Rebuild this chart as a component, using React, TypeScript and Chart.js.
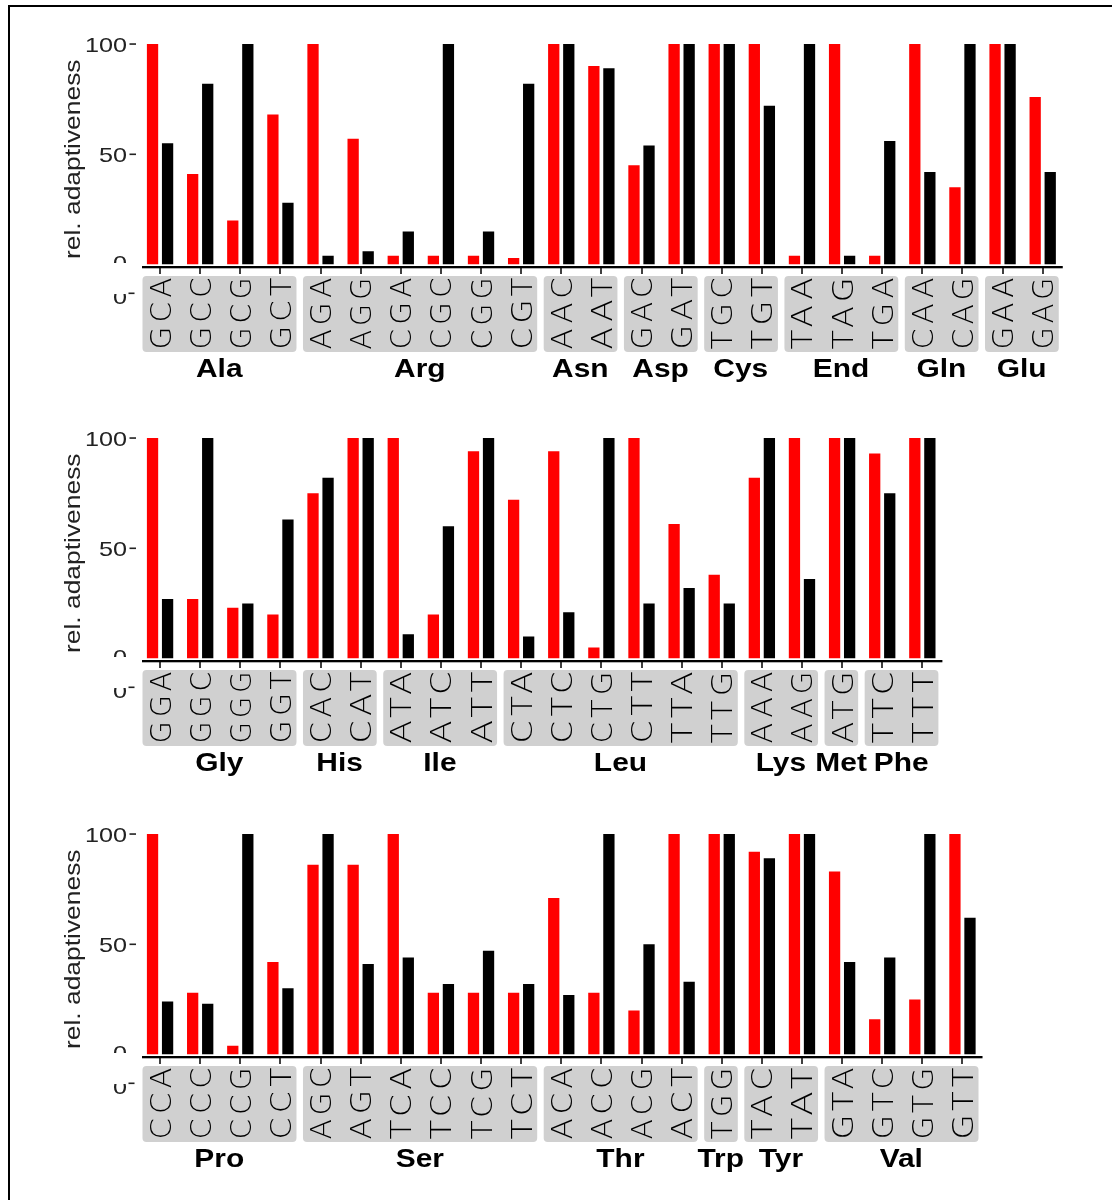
import React, { useEffect, useRef } from 'react';
import { Chart, registerables } from 'chart.js';

Chart.register(...registerables);

// ---------- data ----------
const codons1 = ['GCA','GCC','GCG','GCT','AGA','AGG','CGA','CGC','CGG','CGT','AAC','AAT','GAC','GAT','TGC','TGT','TAA','TAG','TGA','CAA','CAG','GAA','GAG'];
const amino1 = ['Ala','Ala','Ala','Ala','Arg','Arg','Arg','Arg','Arg','Arg','Asn','Asn','Asp','Asp','Cys','Cys','End','End','End','Gln','Gln','Glu','Glu'];
const red1 = [100,41,20,68, 100,57,4,4,4,3, 100,90, 45,100, 100,100, 4,100,4, 100,35, 100,76];
const black1 = [55,82,100,28, 4,6,15,100,15,82, 100,89, 54,100, 100,72, 100,4,56, 42,100, 100,42];

const codons2 = ['GGA','GGC','GGG','GGT','CAC','CAT','ATA','ATC','ATT','CTA','CTC','CTG','CTT','TTA','TTG','AAA','AAG','ATG','TTC','TTT'];
const amino2 = ['Gly','Gly','Gly','Gly','His','His','Ile','Ile','Ile','Leu','Leu','Leu','Leu','Leu','Leu','Lys','Lys','Met','Phe','Phe'];
const red2 = [100,27,23,20, 75,100, 100,20,94, 72,94,5,100,61,38, 82,100, 100, 93,100];
const black2 = [27,100,25,63, 82,100, 11,60,100, 10,21,100,25,32,25, 100,36, 100, 75,100];

const codons3 = ['CCA','CCC','CCG','CCT','AGC','AGT','TCA','TCC','TCG','TCT','ACA','ACC','ACG','ACT','TGG','TAC','TAT','GTA','GTC','GTG','GTT'];
const amino3 = ['Pro','Pro','Pro','Pro','Ser','Ser','Ser','Ser','Ser','Ser','Thr','Thr','Thr','Thr','Trp','Tyr','Tyr','Val','Val','Val','Val'];
const red3 = [100,28,4,42, 86,86,100,28,28,28, 71,28,20,100, 100, 92,100, 83,16,25,100];
const black3 = [24,23,100,30, 100,41,44,32,47,32, 27,100,50,33, 100, 89,100, 42,44,100,62];

const yTickValues = [50, 100];
const yTitle = 'rel. adaptiveness';
const redColor = '#ff0000';
const blackColor = '#000000';

// ---------- layout ----------
const W = 1112;
const H = 395;
const LEFT = 140;
const SLOT = 40.12;
const PLOT_TOP = 44;
const PLOT_BOTTOM = 264.5;
const FONT = "'Liberation Sans', Arial, Helvetica, sans-serif";
const LIGHT_FONT = "'DejaVu Sans', 'Liberation Sans', sans-serif";

function drawStretched(
  ctx: CanvasRenderingContext2D,
  text: string,
  x: number,
  y: number,
  font: string,
  capPx: number,
  align: CanvasTextAlign,
  stretch: number,
  rotate: boolean,
  color: string,
  targetLen?: number,
  spacing?: number
) {
  ctx.save();
  ctx.translate(x, y);
  if (rotate) ctx.rotate(-Math.PI / 2);
  ctx.font = font;
  (ctx as any).letterSpacing = spacing ? `${spacing}px` : '0px';
  let s = stretch;
  if (targetLen) {
    const w = ctx.measureText(text).width - (spacing || 0);
    s = targetLen / w;
  }
  ctx.scale(s, 1);
  ctx.fillStyle = color;
  ctx.textAlign = align;
  ctx.textBaseline = 'alphabetic';
  const shift = align === 'center' && spacing ? spacing / 2 : 0;
  ctx.fillText(text, shift, capPx / 2);
  ctx.restore();
}

function makePlugin(codons: string[], amino: string[]) {
  return {
    id: 'codonDecor',
    afterDraw(chart: any) {
      const ctx: CanvasRenderingContext2D = chart.ctx;
      const xs = chart.scales.x;
      const ys = chart.scales.y;
      const ca = chart.chartArea;
      const n = codons.length;
      const y0 = ys.getPixelForValue(0);
      const slot = (ca.right - ca.left) / n;

      ctx.save();
      // x axis line
      ctx.fillStyle = '#000';
      ctx.fillRect(ca.left + 2, y0 + 1.5, ca.right - ca.left - 2, 2.3);
      // x ticks
      for (let i = 0; i < n; i++) {
        const x = xs.getPixelForTick(i);
        ctx.fillRect(Math.round(x) - 0.75, y0 + 3.5, 1.5, 6);
      }

      // groups (strips)
      let i = 0;
      while (i < n) {
        let j = i;
        while (j < n && amino[j] === amino[i]) j++;
        const start = xs.getPixelForTick(i) - slot / 2;
        const end = xs.getPixelForTick(j - 1) + slot / 2;
        ctx.fillStyle = '#d0d0d0';
        ctx.beginPath();
        (ctx as any).roundRect(start + 2.5, y0 + 11.5, end - start - 6.5, 76, 4);
        ctx.fill();
        for (let k = i; k < j; k++) {
          const x = xs.getPixelForTick(k);
          drawStretched(ctx, codons[k], x, y0 + 49, `200 29px ${LIGHT_FONT}`, 21, 'center', 1, true, '#000', 72, 4);
        }
        drawStretched(ctx, amino[i], (start + end) / 2 - 1, y0 + 103, `bold 26px ${FONT}`, 19, 'center', 1.15, false, '#000');
        i = j;
      }

      // y ticks
      for (const v of yTickValues) {
        const y = ys.getPixelForValue(v);
        ctx.fillStyle = '#222';
        ctx.fillRect(129.5, y - 0.75, 6.5, 1.6);
        drawStretched(ctx, String(v), 127, y, `21px ${FONT}`, 15, 'right', 1.2, false, '#222');
      }

      // clipped "0" at the zero tick
      ctx.save();
      ctx.beginPath();
      ctx.rect(100, y0 - 20, 40, 18.5);
      ctx.clip();
      drawStretched(ctx, '0', 127, y0 - 2, `21px ${FONT}`, 15, 'right', 1.2, false, '#222');
      ctx.restore();

      // clipped "0" in the strip row
      ctx.save();
      ctx.beginPath();
      ctx.rect(100, y0 + 29.5, 40, 20);
      ctx.clip();
      drawStretched(ctx, '0', 127, y0 + 31.5, `21px ${FONT}`, 15, 'right', 1.2, false, '#222');
      ctx.restore();
      ctx.fillStyle = '#222';
      ctx.fillRect(128.5, y0 + 28, 6, 1.6);

      // y title
      ctx.save();
      ctx.translate(80, (ca.top + y0) / 2 + 5);
      ctx.rotate(-Math.PI / 2);
      ctx.scale(1.2, 1);
      ctx.font = `22px ${FONT}`;
      ctx.fillStyle = '#222';
      ctx.textAlign = 'center';
      ctx.textBaseline = 'alphabetic';
      ctx.fillText(yTitle, 0, 0);
      ctx.restore();

      ctx.restore();
    },
  };
}

type PanelProps = {
  codons: string[];
  amino: string[];
  red: number[];
  black: number[];
  top: number;
};

function Panel({ codons, amino, red, black, top }: PanelProps) {
  const ref = useRef<HTMLCanvasElement>(null);
  useEffect(() => {
    const n = codons.length;
    const right = W - (LEFT + n * SLOT);
    const chart = new Chart(ref.current as HTMLCanvasElement, {
      type: 'bar',
      data: {
        labels: codons,
        datasets: [
          { data: red, backgroundColor: redColor, borderWidth: 0 },
          { data: black, backgroundColor: blackColor, borderWidth: 0 },
        ],
      },
      options: {
        responsive: false,
        animation: false,
        devicePixelRatio: 1,
        layout: { padding: { left: LEFT, right, top: PLOT_TOP, bottom: H - PLOT_BOTTOM } },
        datasets: { bar: { categoryPercentage: 0.75, barPercentage: 0.75 } },
        scales: {
          x: { display: false, offset: true },
          y: { display: false, min: 0, max: 100 },
        },
        plugins: { legend: { display: false }, tooltip: { enabled: false } },
      } as any,
      plugins: [makePlugin(codons, amino)],
    });
    return () => chart.destroy();
  }, []);
  return (
    <canvas
      ref={ref}
      width={W}
      height={H}
      style={{ position: 'absolute', left: 0, top, width: W, height: H, display: 'block' }}
    />
  );
}

export default function App() {
  return (
    <div style={{ position: 'absolute', left: 0, top: 0, width: W, height: 1200, background: '#fff', overflow: 'hidden' }}>
      <div
        style={{
          position: 'absolute',
          left: 8,
          top: 5,
          width: 1110,
          height: 1200,
          borderTop: '2px solid #000',
          borderLeft: '2px solid #000',
          boxSizing: 'border-box',
        }}
      />
      <Panel codons={codons1} amino={amino1} red={red1} black={black1} top={0} />
      <Panel codons={codons2} amino={amino2} red={red2} black={black2} top={394} />
      <Panel codons={codons3} amino={amino3} red={red3} black={black3} top={790} />
    </div>
  );
}
